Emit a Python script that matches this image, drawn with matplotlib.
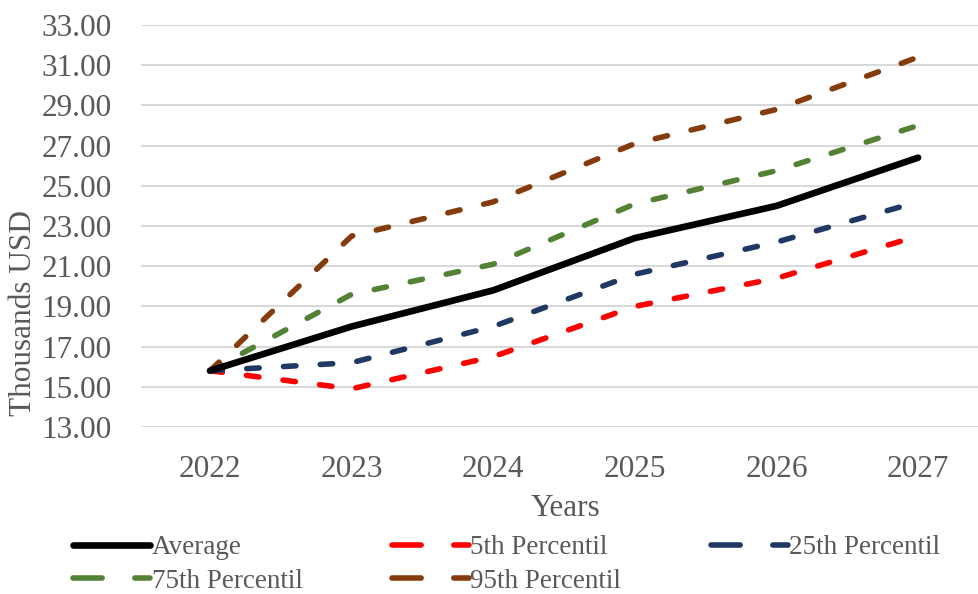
import matplotlib.pyplot as plt
from matplotlib.lines import Line2D

years = ["2022", "2023", "2024", "2025", "2026", "2027"]
average = [15.8, 18.0, 19.8, 22.4, 24.0, 26.4]
p5 = [15.8, 14.9, 16.5, 19.0, 20.4, 22.5]
p25 = [15.8, 16.2, 18.0, 20.6, 22.2, 24.2]
p75 = [15.8, 19.6, 21.1, 24.1, 25.75, 28.0]
p95 = [15.8, 22.5, 24.2, 27.1, 28.8, 31.4]

series = [
    ("Average", average, "#000000", None),
    ("5th Percentil", p5, "#FF0000", "dash"),
    ("25th Percentil", p25, "#1F3864", "dash"),
    ("75th Percentil", p75, "#548235", "dash"),
    ("95th Percentil", p95, "#843C0C", "dash"),
]

plt.rcParams['font.family'] = ['Liberation Serif', 'DejaVu Serif']
plt.rcParams['lines.scale_dashes'] = False
grey = "#595959"

W, H = 979, 594
fig = plt.figure(figsize=(W / 100, H / 100), dpi=100)
ax = fig.add_axes([141 / W, 1 - 427 / H, (W - 141) / W, 402 / H])

x = list(range(len(years)))
handles = {}
for name, vals, col, style in series:
    if style is None:
        ax.plot(x, vals, color=col, lw=4.8, solid_capstyle='round',
                solid_joinstyle='round', zorder=4)
        h = Line2D([], [], color=col, lw=4.8, solid_capstyle='round')
    else:
        ax.plot(x, vals, color=col, lw=4.0, dashes=(9.0, 17.5),
                dash_capstyle='round', zorder=3)
        h = Line2D([], [], color=col, lw=4.0, dashes=(21.0, 23.5),
                   dash_capstyle='round')
    handles[name] = h

ax.set_xlim(-0.487, 5.43)
ax.set_ylim(13, 33)
ax.set_yticks([13 + 2 * i for i in range(11)])
ax.yaxis.set_major_formatter(plt.FuncFormatter(lambda v, p: f"{v:.2f}"))
ax.set_xticks(x)
ax.set_xticklabels(years)
ax.tick_params(axis='both', length=0, labelsize=22.5, labelcolor=grey)
ax.tick_params(axis='y', pad=21)
ax.tick_params(axis='x', pad=20)
ax.grid(axis='y', color="#d9d9d9", lw=1.5)
ax.set_axisbelow(True)
for s in ax.spines.values():
    s.set_visible(False)

ax.set_ylabel("Thousands USD", fontsize=22.5, color=grey)
ax.yaxis.label.set_va('center')
ax.yaxis.set_label_coords(-0.14, 0.284)
ax.set_xlabel("Years", fontsize=22.5, color=grey)
ax.xaxis.label.set_va('center')
ax.xaxis.set_label_coords(0.506, -0.2015)

order = ["Average", "75th Percentil", "5th Percentil", "95th Percentil", "25th Percentil"]
leg = fig.legend([handles[n] for n in order], order, loc='upper left',
                 bbox_to_anchor=(73 / W, 1 - 535 / H), ncol=3, frameon=False,
                 fontsize=19.5, handlelength=2.85, handletextpad=0.05,
                 columnspacing=3.3, labelspacing=0.32, borderpad=0,
                 borderaxespad=0)
for t in leg.get_texts():
    t.set_color(grey)

fig.savefig("out.png", dpi=100)
